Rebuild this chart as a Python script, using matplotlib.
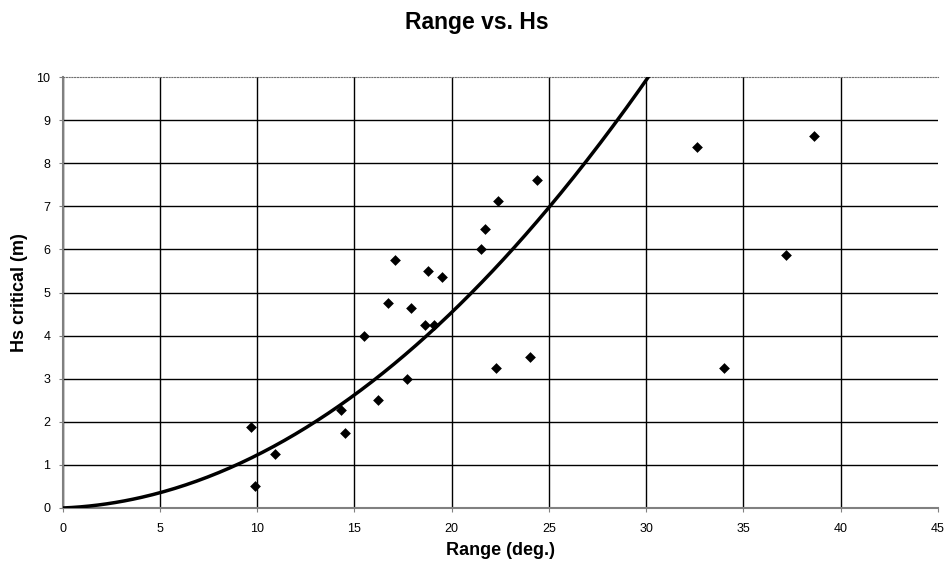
import matplotlib
matplotlib.use('Agg')
import matplotlib.pyplot as plt
import numpy as np

plt.rcParams['font.family'] = ['Liberation Sans', 'DejaVu Sans']

# measured points (Range deg., Hs critical m)
range_deg = [9.7, 9.9, 10.9, 14.3, 14.5, 16.2, 17.7, 15.5, 16.7, 17.9, 18.6, 19.1,
             17.1, 18.8, 19.5, 21.5, 21.7, 22.3, 22.4, 24.4, 24.0, 32.6, 38.6, 37.2, 34.0]
hs_crit = [1.88, 0.5, 1.25, 2.27, 1.75, 2.5, 3.0, 4.0, 4.75, 4.63, 4.25, 4.25,
           5.75, 5.5, 5.37, 6.0, 6.48, 3.25, 7.12, 7.62, 3.5, 8.37, 8.63, 5.88, 3.25]

# trendline coefficients (y = a*x^2 + b*x)
trend_a = 0.0104
trend_b = 0.019

fig = plt.figure(figsize=(9.49, 5.65), dpi=100)
ax = fig.add_axes([0.0661, 0.1009, 0.9223, 0.7628])

xt = np.linspace(0, 45, 400)
ax.plot(xt, trend_a * xt**2 + trend_b * xt, color='black', lw=2.5, zorder=3)
ax.scatter(range_deg, hs_crit, marker='D', s=30, color='black', zorder=4, linewidths=0)

ax.set_xlim(0, 45)
ax.set_ylim(0, 10)
ax.set_xticks(np.arange(0, 46, 5))
ax.set_yticks(np.arange(0, 11, 1))
ax.grid(True, color='black', lw=1.0)
ax.set_axisbelow(True)
# no gridline on the right edge / top edge (top edge is dotted border)
ax.xaxis.get_gridlines()[-1].set_visible(False)
ax.yaxis.get_gridlines()[-1].set_visible(False)

for s in ['left', 'bottom']:
    ax.spines[s].set_color('#808080')
    ax.spines[s].set_linewidth(1.5)
ax.spines['right'].set_visible(False)
ax.spines['top'].set_linestyle((0, (1, 1.5)))
ax.spines['top'].set_color('#707070')
ax.tick_params(axis='both', direction='out', length=3, color='#808080',
               labelsize=9)
ax.tick_params(axis='x', pad=8)
ax.tick_params(axis='y', pad=6)

fig.text(0.502, 1 - 22 / 565, 'Range vs. Hs', fontsize=16.5, fontweight='bold',
         ha='center', va='center')
ax.set_xlabel('Range (deg.)', fontsize=13, fontweight='bold', labelpad=5)
ax.set_ylabel('Hs critical (m)', fontsize=13, fontweight='bold', labelpad=6)

fig.savefig('out.png', dpi=100)
